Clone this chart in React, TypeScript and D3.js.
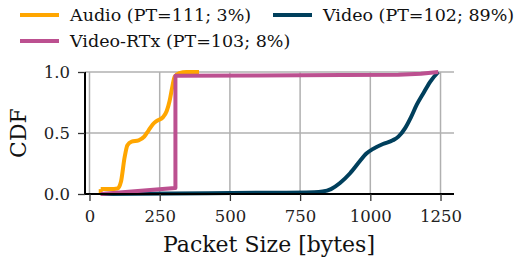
import React, { useRef, useEffect } from 'react';
import * as d3 from 'd3';

// series: [packet size (bytes), cumulative fraction]
const audioPoints: [number, number][] = [
  [40, 0.0], [40, 0.04], [75, 0.04], [100, 0.045], [112, 0.1], [125, 0.3], [135, 0.4],
  [150, 0.43], [175, 0.44], [195, 0.47], [210, 0.52], [225, 0.57], [240, 0.6],
  [262, 0.63], [275, 0.68], [285, 0.76], [295, 0.88], [303, 0.96], [320, 0.99],
  [345, 1.0], [390, 1.0],
];
const videoPoints: [number, number][] = [
  [40, 0.0], [300, 0.005], [600, 0.01], [800, 0.015], [830, 0.02], [860, 0.04],
  [892, 0.09], [928, 0.17], [963, 0.27], [985, 0.33], [1010, 0.37], [1045, 0.41],
  [1080, 0.44], [1100, 0.47], [1124, 0.54], [1145, 0.63], [1165, 0.73],
  [1190, 0.83], [1213, 0.92], [1242, 1.0],
];
const rtxPoints: [number, number][] = [
  [40, 0.0], [150, 0.02], [304, 0.05], [306, 0.05], [306, 0.97], [600, 0.972],
  [900, 0.975], [1100, 0.978], [1180, 0.985], [1242, 1.0],
];

const seriesNames = ['Audio (PT=111; 3%)', 'Video (PT=102; 89%)', 'Video-RTx (PT=103; 8%)'];
const seriesColors = ['#ffa600', '#003f5c', '#bc5090'];
const xTicks = [0, 250, 500, 750, 1000, 1250];
const yTicks = [0, 0.5, 1];

const App = () => {
  const ref = useRef<SVGSVGElement>(null);

  useEffect(() => {
    const svg = d3.select(ref.current);
    svg.selectAll('*').remove();

    const font = "'DejaVu Serif', 'Liberation Serif', serif";
    const x = d3.scaleLinear().domain([-16, 1298]).range([85, 454]);
    const y = d3.scaleLinear().domain([0, 1]).range([194, 72]);

    // grid
    const grid = svg.append('g').attr('stroke', '#b0b0b0').attr('stroke-width', 1.5);
    xTicks.forEach(t => {
      grid.append('line').attr('x1', x(t)).attr('x2', x(t)).attr('y1', y(0)).attr('y2', y(1));
    });
    yTicks.forEach(t => {
      grid.append('line').attr('x1', x.range()[0]).attr('x2', x.range()[1]).attr('y1', y(t)).attr('y2', y(t));
    });

    // lines
    const line = d3.line<[number, number]>().x(d => x(d[0])).y(d => y(d[1]));
    const smooth = d3.line<[number, number]>().x(d => x(d[0])).y(d => y(d[1])).curve(d3.curveMonotoneX);
    const plot = svg.append('g').attr('fill', 'none').attr('stroke-width', 4)
      .attr('stroke-linejoin', 'round');
    plot.append('path').datum(videoPoints).attr('stroke', seriesColors[1]).attr('d', smooth);
    plot.append('path').datum(audioPoints.slice(1)).attr('stroke', seriesColors[0]).attr('d', smooth);
    plot.append('path').datum(audioPoints.slice(0, 2)).attr('stroke', seriesColors[0]).attr('d', line);
    plot.append('path').datum(rtxPoints).attr('stroke', seriesColors[2]).attr('d', line);

    // axes
    const xAxis = svg.append('g').attr('transform', `translate(0,${y(0)})`)
      .call(d3.axisBottom(x).tickValues(xTicks).tickSize(7).tickPadding(9).tickFormat(d3.format('d')));
    const yAxis = svg.append('g').attr('transform', `translate(${x.range()[0]},0)`)
      .call(d3.axisLeft(y).tickValues(yTicks).tickSize(7).tickPadding(8).tickFormat(d3.format('.1f')));
    [xAxis, yAxis].forEach(a => {
      a.select('.domain').attr('stroke', '#000').attr('stroke-width', 2);
      a.selectAll('.tick line').attr('stroke', '#333').attr('stroke-width', 1.3);
      a.selectAll('.tick text').attr('fill', '#222').style('font-family', font).style('font-size', '16.5px');
    });
    xAxis.select('.domain').attr('d', `M${x.range()[0]},0H${x.range()[1]}`);
    yAxis.select('.domain').attr('d', `M0,${y(0)}V${y(1)}`);

    // axis labels
    svg.append('text').attr('x', 269).attr('y', 252).attr('text-anchor', 'middle')
      .style('font-family', font).style('font-size', '22px').attr('fill', '#111')
      .text('Packet Size [bytes]');
    svg.append('text').attr('transform', `translate(26,${(y(0) + y(1)) / 2}) rotate(-90)`)
      .attr('text-anchor', 'middle').style('font-family', font).style('font-size', '22px')
      .attr('fill', '#111').text('CDF');

    // legend
    const legendPos = [[20, 15], [273, 15], [20, 41]];
    seriesNames.forEach((name, i) => {
      const [lx, ly] = legendPos[i];
      svg.append('line').attr('x1', lx).attr('x2', lx + 39).attr('y1', ly).attr('y2', ly)
        .attr('stroke', seriesColors[i]).attr('stroke-width', 4);
      svg.append('text').attr('x', lx + 50).attr('y', ly + 6).style('font-family', font)
        .style('font-size', '17.5px').attr('fill', '#111').text(name);
    });
  }, []);

  return (
    <svg ref={ref} width={517} height={260}
      style={{ position: 'absolute', left: 0, top: 0, background: '#fff' }} />
  );
};

export default App;
